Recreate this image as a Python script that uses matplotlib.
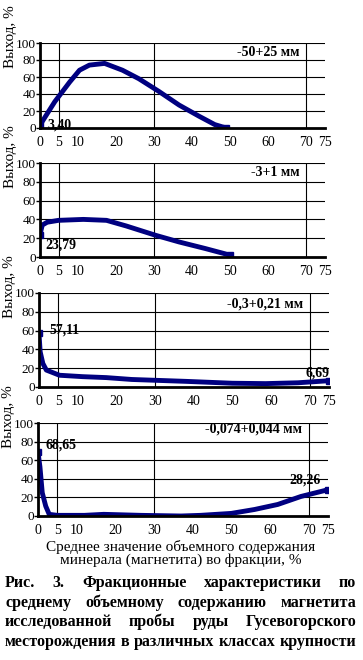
import matplotlib
matplotlib.use("Agg")
import matplotlib.pyplot as plt

plt.rcParams['font.family'] = ['Liberation Serif', 'DejaVu Serif']

# magnetite content in fraction, % (x) vs yield, % (y)
x_a = [0, 2.2, 3.9, 7.8, 10.4, 13, 17, 21.7, 26, 31.3, 36.6, 41.8, 46, 49]
y_a = [3.4, 19, 31, 54, 68, 74, 76, 68, 58, 43, 27, 14, 4, 0]

x_b = [0, 0.6, 1.9, 4.9, 11.4, 17.5, 22.7, 30.5, 36.6, 43.5, 50]
y_b = [23.79, 34, 37, 39, 40, 39, 33, 23, 16, 9, 2]

x_c = [0, 0.3, 1, 1.9, 5.3, 11.3, 17.4, 24, 31, 38, 50, 58.6, 67, 75]
y_c = [57.11, 37.5, 25, 18, 12.5, 11, 10, 8, 7, 6, 4, 3.6, 4.5, 6.69]

x_d = [0, 0.5, 1.1, 2, 2.9, 5, 12, 17, 26.6, 37, 42, 50, 56, 62, 68, 75]
y_d = [68.65, 53, 25, 10.6, 1.8, 0.7, 0.7, 1.8, 0.7, 0, 0.7, 2.8, 7, 12.4, 21, 28.26]

classes = ['-50+25 мм', '-3+1 мм', '-0,3+0,21 мм', '-0,074+0,044 мм']
labels_first = ['3,40', '23,79', '57,11', '68,65']
labels_last = [None, None, '6,69', '28,26']

xticks = [0, 5, 10, 20, 30, 40, 50, 60, 70, 75]
yticks = [0, 20, 40, 60, 80, 100]

W, H = 363, 660
fig = plt.figure(figsize=(W / 100, H / 100), dpi=100)

# axes boxes in pixels: left, top, right, bottom
boxes = [(40, 43, 325, 128), (40, 163, 325, 257), (39, 293, 329, 387), (38, 423, 328, 516)]
series = [(x_a, y_a), (x_b, y_b), (x_c, y_c), (x_d, y_d)]
first_pos = [(2.0, 4), (1.3, 13), (2.6, 61), (2.0, 76)]
last_pos = [None, None, (75, 15), (73, 39)]
title_y = [0.89, 0.90, 0.88, 0.94]

navy = '#000080'

for i, (l, t, r, b) in enumerate(boxes):
    ax = fig.add_axes([l / W, 1 - b / H, (r - l) / W, (b - t) / H])
    xs, ys = series[i]
    ax.plot(xs, ys, color=navy, lw=3.5, marker='s', ms=5, markevery=[0, len(xs) - 1],
            solid_joinstyle='round', solid_capstyle='round')
    ax.set_xlim(0, 75)
    ax.set_ylim(0, 100)
    ax.set_xticks(xticks)
    ax.set_yticks(yticks)
    for v in [5, 30, 70]:
        ax.axvline(v, color='black', lw=0.8, zorder=0)
    for v in [20, 40, 60, 80, 100]:
        ax.axhline(v, color='black', lw=0.8, zorder=0)
    for s in ['top', 'right']:
        ax.spines[s].set_visible(False)
    for s in ['left', 'bottom']:
        ax.spines[s].set_linewidth(2)
    ax.tick_params(axis='x', length=0, pad=6, labelsize=10)
    ax.tick_params(axis='y', length=3, width=1, pad=0, labelsize=9.5)
    ax.set_ylabel('Выход, %', fontsize=11)
    ax.yaxis.set_label_coords(-0.08, 1.07)
    ax.text(0.91, title_y[i], classes[i], transform=ax.transAxes, ha='right',
            va='center', fontsize=10, fontweight='bold')
    fx, fy = first_pos[i]
    ax.text(fx, fy, labels_first[i], ha='left', va='center', fontsize=10, fontweight='bold')
    if labels_last[i]:
        lx, ly = last_pos[i]
        ax.text(lx, ly, labels_last[i], ha='right', va='center', fontsize=10, fontweight='bold')

fig.text(181 / W, 1 - 547 / H, 'Среднее значение объемного содержания',
         ha='center', va='center', fontsize=11)
fig.text(181 / W, 1 - 560 / H, 'минерала (магнетита) во фракции, %',
         ha='center', va='center', fontsize=11)

caption = ['Рис. 3. Фракционные характеристики по',
           'среднему объемному содержанию магнетита',
           'исследованной пробы руды Гусевогорского',
           'месторождения в различных классах крупности']
cap_y = [583, 603, 622, 642]

# justified caption lines
renderer = fig.canvas.get_renderer()
x0, x1 = 5, 356
for line, py in zip(caption, cap_y):
    words = line.split()
    objs = [fig.text(0, 1 - py / H, w, ha='left', va='center', fontsize=11.5,
                     fontweight='bold') for w in words]
    widths = [o.get_window_extent(renderer).width for o in objs]
    gap = (x1 - x0 - sum(widths)) / (len(words) - 1)
    pos = x0
    for o, w in zip(objs, widths):
        o.set_x(pos / W)
        pos += w + gap

fig.savefig('out.png', dpi=100)
